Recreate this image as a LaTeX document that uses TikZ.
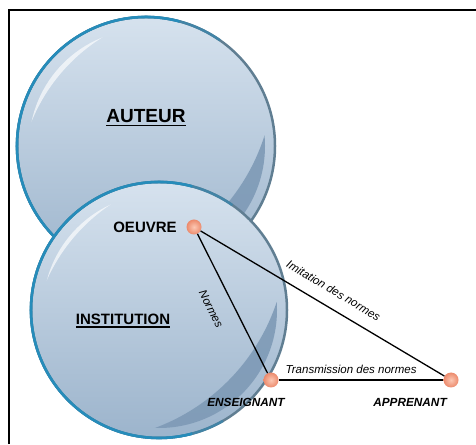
\documentclass[tikz,border=0pt]{standalone}
\usepackage{fontspec}
\setmainfont{Liberation Sans}
\usetikzlibrary{calc}
\definecolor{ballTop}{RGB}{214,226,238}
\definecolor{ballBot}{RGB}{156,180,204}
\definecolor{rimTeal}{RGB}{38,140,186}
\definecolor{rimMid}{RGB}{66,132,166}
\definecolor{rimGray}{RGB}{96,126,146}
\definecolor{crescentCol}{RGB}{126,154,182}
\definecolor{dotIn}{RGB}{252,200,180}
\definecolor{dotOut}{RGB}{236,138,108}
\newcommand{\ulthick}[2]{\leavevmode\setbox0=\hbox{#2}\rlap{\vrule height -#1 depth \dimexpr#1+1.5pt\relax width \wd0}\box0}
\newcommand{\glossball}[4]{%
  \coordinate (#1) at (#2,#3);
  \fill[top color=ballTop,bottom color=ballBot] (#1) circle (#4);
  \begin{scope}
    \clip (#1) circle ({#4-10});
    \fill[crescentCol, opacity=.9, even odd rule] (#1) circle (#4) ($(#1)+(136:103)$) circle (202);
  \end{scope}
  \begin{scope}
    \clip (#1) circle ({#4-12});
    \fill[white, opacity=.65, even odd rule] (#1) circle (#4) ($(#1)+(-40:66)$) circle (178);
  \end{scope}
  \draw[rimGray, line width=2.5pt] (#1) circle (#4);
  \draw[rimMid, line width=2.5pt] ($(#1)+(55:#4)$) arc (55:300:#4);
  \draw[rimTeal, line width=2.6pt] ($(#1)+(75:#4)$) arc (75:285:#4);
}
\begin{document}
\begin{tikzpicture}[x=1pt,y=1pt,
  dot/.style={circle, minimum size=15pt, inner sep=0pt, shading=radial, inner color=dotIn, outer color=dotOut},
  edge/.style={line width=1.3pt, black},
  elab/.style={font=\fontsize{11.5}{13}\selectfont\itshape, inner sep=0pt, sloped},
  bigtitle/.style={font=\fontsize{19}{22}\selectfont\bfseries, inner sep=0pt},
  midtitle/.style={font=\fontsize{15}{18}\selectfont\bfseries, inner sep=0pt},
  role/.style={font=\fontsize{11.8}{14}\selectfont\bfseries\itshape, inner sep=0pt}]
\useasboundingbox (0,0) rectangle (476,444);
\draw[line width=2.2pt] (9,0) -- (9,434) -- (476,434);
\glossball{auteurBall}{146}{298}{129}
\glossball{institutionBall}{159}{134}{128}
\node[bigtitle] (auteur) at (146,326) {\ulthick{2.2pt}{AUTEUR}};
\node[midtitle] (institution) at (123,123) {\ulthick{1.8pt}{INSTITUTION}};
\node[midtitle] (oeuvreText) at (145,217) {OEUVRE};
\node[role] (ensText) at (246,42) {ENSEIGNANT};
\node[role] (appText) at (410,42) {APPRENANT};
\node[dot] (oeuvre) at (194,217) {};
\node[dot] (ens) at (271,64) {};
\node[dot] (app) at (451,64) {};
\draw[edge] (oeuvre) -- node[elab, below=17pt, pos=.47] {Normes} (ens);
\draw[edge] (oeuvre) -- node[elab, above=12pt, pos=.51] {Imitation des normes} (app);
\draw[edge] (ens) -- node[elab, above=6pt, pos=.44] {Transmission des normes} (app);
\end{tikzpicture}
\end{document}
